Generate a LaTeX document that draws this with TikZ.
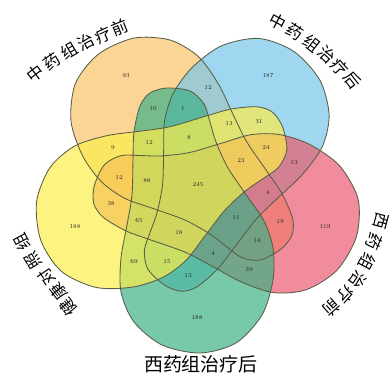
\documentclass[tikz,border=0pt]{standalone}
\usepackage{fontspec}
\newfontfamily\cjk{Noto Sans CJK SC}
\definecolor{cOrange}{RGB}{248,195,105}
\definecolor{cBlue}{RGB}{119,198,233}
\definecolor{cPink}{RGB}{234,91,112}
\definecolor{cTeal}{RGB}{62,176,134}
\definecolor{cYellow}{RGB}{252,238,75}
\definecolor{cLine}{RGB}{88,94,70}
\newcommand\vpetal[2]{\path[#1, rotate around={#2:(C)}] plot[smooth cycle] coordinates {(167,88) (190,91) (204,104) (210,122) (216,142) (228,168) (247,196) (264,221) (273,248) (273,280) (262,315) (236,343) (200,353) (162,345) (134,322) (121,292) (121,258) (127,225) (132,195) (133,160) (134,132) (140,106) (150,93)};}
\tikzset{
  setfill/.style={fill=#1, fill opacity=0.7},
  setline/.style={draw=cLine, line width=0.85pt},
  num/.style={font=\fontsize{6}{6}\selectfont, text=black!85, inner sep=0pt},
  lab/.style={font=\cjk\fontsize{16.5}{17}\selectfont, inner sep=0pt}
}
\begin{document}
\begin{tikzpicture}[x=1pt,y=-1pt]
\useasboundingbox (0,0) rectangle (392,377);
\coordinate (C) at (198,187);
% fills
\vpetal{setfill=cOrange}{-144}
\vpetal{setfill=cBlue}{-216}
\vpetal{setfill=cPink}{-288}
\vpetal{setfill=cTeal}{0}
\vpetal{setfill=cYellow}{-72}
% outlines
\vpetal{setline}{-144}
\vpetal{setline}{-216}
\vpetal{setline}{-288}
\vpetal{setline}{0}
\vpetal{setline}{-72}
% region counts
\foreach \t/\x/\y [count=\i] in {93/126/76, 187/268/76, 12/208/88, 10/153/109, 1/183/109,
  13/229/124, 31/259/122, 9/113/148, 12/149/143, 8/189/138, 24/266/147, 23/241/161,
  13/294/163, 12/119/178, 88/147/181, 245/198/185, 4/268/192, 38/111/204, 65/139/221,
  18/179/233, 11/236/218, 19/280/222, 14/257/240, 119/325/227, 188/75/227, 69/134/262,
  15/167/262, 4/213/253, 39/249/270, 13/188/276, 188/197/318}
  \node[num] (n\i) at (\x,\y) {\t};
% set labels
\foreach \ch/\x/\y/\r [count=\i] in {中/35/74/37, 药/52/62/34, 组/69/51/31, 治/86/42/28, 疗/103/35/25, 前/120/28/22}
  \node[lab, rotate=\r] (a\i) at (\x,\y) {\ch};
\foreach \ch/\x/\y/\r [count=\i] in {中/278/22/-28, 药/295/32/-33, 组/312/43/-38, 治/327/55/-43, 疗/340/67/-48, 后/352/80/-52}
  \node[lab, rotate=\r] (b\i) at (\x,\y) {\ch};
\foreach \ch/\x/\y/\r [count=\i] in {西/381/221/-105, 药/374/242/-112, 组/367/262/-118, 治/358/280/-125, 疗/346/295/-132, 前/332/308/-138}
  \node[lab, rotate=\r] (c\i) at (\x,\y) {\ch};
\foreach \ch/\x/\y/\r [count=\i] in {健/68/307/130, 康/58/292/127, 对/47/277/124, 照/33/260/121, 组/22/242/118}
  \node[lab, rotate=\r] (d\i) at (\x,\y) {\ch};
\node[lab, font=\cjk\fontsize{19}{19}\selectfont] (e) at (201,364) {西药组治疗后};
\end{tikzpicture}
\end{document}
